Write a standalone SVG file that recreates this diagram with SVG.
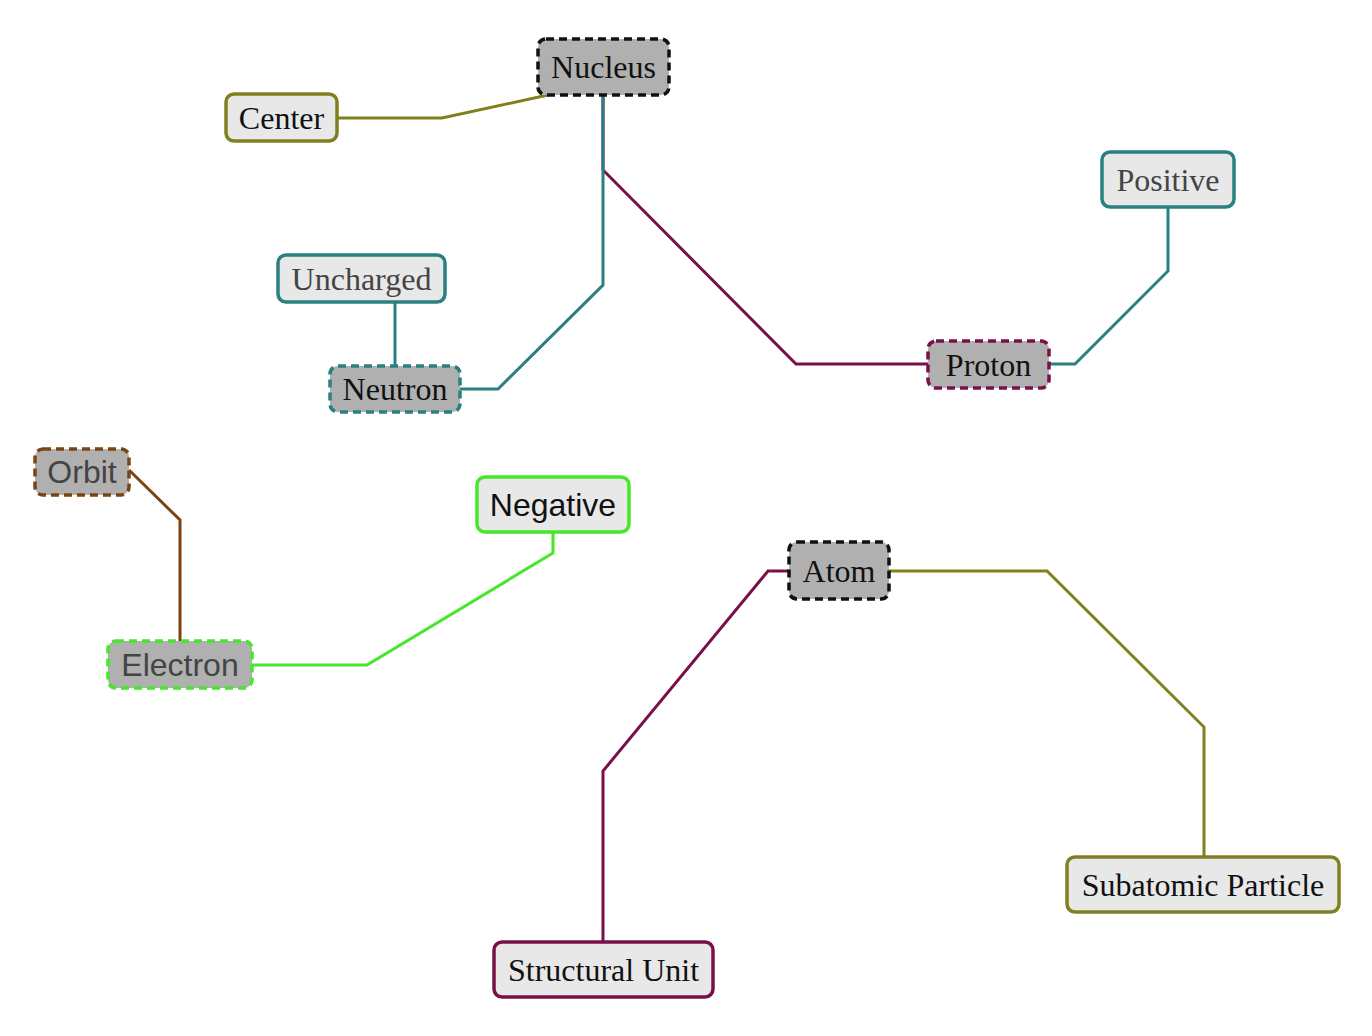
<svg xmlns="http://www.w3.org/2000/svg" width="1372" height="1036" viewBox="0 0 1372 1036">
<style>
.bg{fill:#ffffff}
.n rect{stroke-width:3.5}
.main rect{fill:#b0b0b0;stroke-dasharray:8 5}
.leaf rect{fill:#e8e8e8}
text{font-size:32px;text-anchor:middle}
.serif{font-family:"Liberation Serif","Times New Roman",serif}
.sans{font-family:"Liberation Sans",Arial,sans-serif}
.dk{fill:#111111}
.gr{fill:#444444}
#edges polyline{fill:none;stroke-width:3;stroke-linejoin:miter}
.olive{stroke:#808020}
.teal{stroke:#2a8080}
.maroon{stroke:#7a104a}
.brown{stroke:#7a4512}
.green{stroke:#44e828}
.black{stroke:#111111}
</style>
<rect class="bg" x="0" y="0" width="1372" height="1036"/>
<g id="edges">
<polyline class="maroon" points="603,95 603,170 796,364 928,364"/>
<polyline class="olive" points="337,118 442,118 548,95"/>
<polyline class="teal" points="603,95 603,285 498,389 460,389"/>
<polyline class="teal" points="395,302 395,366"/>
<polyline class="teal" points="1049,364 1075,364 1168,271 1168,207"/>
<polyline class="brown" points="129,470 180,520 180,641"/>
<polyline class="green" points="252,665 367,665 553,553 553,532"/>
<polyline class="maroon" points="789,571 768,571 603,771 603,942"/>
<polyline class="olive" points="889,571 1047,571 1204,727 1204,857"/>
</g>
<g id="nucleus" class="n main"><rect class="black" x="538" y="39" width="131" height="56" rx="8"/><text class="serif dk" x="603.5" y="78">Nucleus</text></g>
<g id="center" class="n leaf"><rect class="olive" x="226" y="94" width="111" height="47" rx="8"/><text class="serif dk" x="281.5" y="129">Center</text></g>
<g id="positive" class="n leaf"><rect class="teal" x="1102" y="152" width="132" height="55" rx="8"/><text class="serif gr" x="1168" y="191">Positive</text></g>
<g id="uncharged" class="n leaf"><rect class="teal" x="278" y="255" width="167" height="47" rx="8"/><text class="serif gr" x="361.5" y="290">Uncharged</text></g>
<g id="neutron" class="n main"><rect class="teal" x="330" y="366" width="130" height="46" rx="8"/><text class="serif dk" x="395" y="400">Neutron</text></g>
<g id="proton" class="n main"><rect class="maroon" x="928" y="341" width="121" height="47" rx="8"/><text class="serif dk" x="988.5" y="376">Proton</text></g>
<g id="orbit" class="n main"><rect class="brown" x="35" y="449" width="94" height="46" rx="8"/><text class="sans gr" x="82" y="483">Orbit</text></g>
<g id="negative" class="n leaf"><rect class="green" x="477" y="477" width="152" height="55" rx="8"/><text class="sans dk" x="553" y="516">Negative</text></g>
<g id="electron" class="n main"><rect class="green" x="108" y="641" width="144" height="47" rx="8"/><text class="sans gr" x="180" y="676">Electron</text></g>
<g id="atom" class="n main"><rect class="black" x="789" y="542" width="100" height="57" rx="8"/><text class="serif dk" x="839" y="582">Atom</text></g>
<g id="subatomic" class="n leaf"><rect class="olive" x="1067" y="857" width="272" height="55" rx="8"/><text class="serif dk" x="1203" y="896">Subatomic Particle</text></g>
<g id="structural" class="n leaf"><rect class="maroon" x="494" y="942" width="219" height="55" rx="8"/><text class="serif dk" x="603.5" y="981">Structural Unit</text></g>
</svg>
